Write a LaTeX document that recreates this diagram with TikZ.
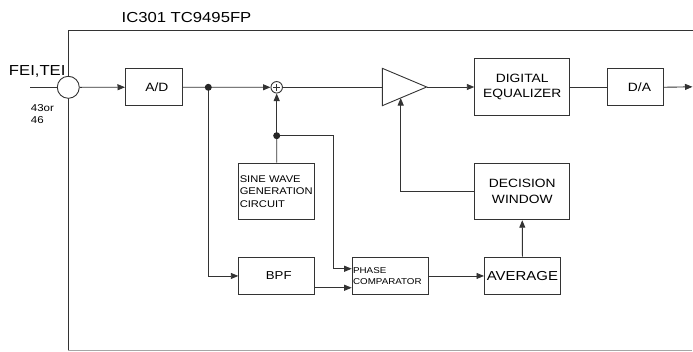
\documentclass[tikz,border=0pt]{standalone}
\usepackage{fontspec}
\setmainfont{Liberation Sans}[FakeStretch=1.15]
\usetikzlibrary{arrows.meta,calc}
\begin{document}
\begin{tikzpicture}[x=1pt,y=-1pt,
  ln/.style={draw=black!80,line width=0.9pt},
  arr/.style={ln,-{Triangle[length=7.5pt,width=6pt]}},
  blk/.style={draw=black!80,line width=0.9pt,rectangle,inner sep=0pt,anchor=north west,align=center,font=\fontsize{12}{15.5}\selectfont},
  lblk/.style={blk,inner sep=1pt,align=left},
  dotn/.style={circle,fill=black!85,inner sep=0pt,minimum size=7pt},
  lbl/.style={inner sep=0pt},
]
\useasboundingbox (0,0) rectangle (693,351);
% frame
\draw[ln] (68.3,350) -- (68.3,30) -- (693,30);
\draw[draw=black!35,line width=0.9pt] (68.3,350.3) -- (691.7,350.3);
% labels
\node[lbl,font=\fontsize{14.5}{17}\selectfont] (title) at (186.5,17.3) {IC301 TC9495FP};
\node[lbl,font=\fontsize{14.5}{17}\selectfont] (fei) at (37.2,71.3) {FEI,TEI};
\node[lbl,anchor=west,align=left,font=\fontsize{10}{12}\selectfont] (pin) at (30.7,114) {43or\\46};
% blocks
\node[circle,draw=black!80,line width=0.9pt,fill=white,minimum size=22pt,inner sep=0pt] (cin) at (68.3,87.3) {};
\node[blk,minimum width=56.7pt,minimum height=37pt] (ad) at (125,68.3) {\hspace*{6pt}A/D};
\node[circle,draw=black!80,line width=0.9pt,fill=white,minimum size=11.5pt,inner sep=0pt] (sum) at (276.7,87.3) {};
\draw[ln,line width=0.7pt] ($(sum.center)+(-3.3,0)$) -- ($(sum.center)+(3.3,0)$);
\draw[ln,line width=0.7pt] ($(sum.center)+(0,-3.3)$) -- ($(sum.center)+(0,3.3)$);
\draw[ln] (382.3,68.3) -- (426.7,87) -- (382.3,105.7) -- cycle;
\coordinate (tin) at (382.3,87.3);
\coordinate (tout) at (426.7,87);
\coordinate (tfb) at (400.7,98);
\node[blk,minimum width=95pt,minimum height=56.7pt] (eq) at (474.3,58.3) {DIGITAL\\EQUALIZER};
\node[blk,minimum width=56.6pt,minimum height=37pt] (da) at (606.7,68.3) {\hspace*{8pt}D/A};
\node[lblk,text width=74pt,minimum height=56.6pt,font=\fontsize{9.7}{12.5}\selectfont] (sine) at (238.3,162.7) {SINE WAVE\\GENERATION\\CIRCUIT};
\node[blk,minimum width=95pt,minimum height=56.6pt] (dw) at (474.3,162.7) {DECISION\\WINDOW};
\node[blk,minimum width=76pt,minimum height=37.6pt,font=\fontsize{11.5}{14}\selectfont] (bpf) at (238.3,256.7) {\hspace*{4pt}BPF};
\node[lblk,text width=74pt,minimum height=37.6pt,font=\fontsize{8.5}{11.5}\selectfont] (pc) at (351.7,256.7) {PHASE\\COMPARATOR};
\node[blk,minimum width=76pt,minimum height=37.6pt,font=\fontsize{13}{15}\selectfont] (avg) at (484,256.7) {AVERAGE};
% connectors
\coordinate (in) at (30,87.3);
\coordinate (j1) at (208.3,87.3);
\coordinate (j2) at (276.7,135.7);
\coordinate (k) at (333.3,135.7);
\coordinate (out) at (692.5,86.8);
\draw[ln] (in) -- (cin.west);
\draw[arr] (cin.east) -- (ad.west);
\draw[arr] (ad.east) -- (sum.west);
\draw[ln] (sum.east) -- (tin);
\draw[arr] (tout) -- (tout -| eq.west);
\draw[ln] (eq.east) -- (eq.east -| da.west);
\draw[arr] (da.east) -- (out);
\draw[arr] (j1) |- (bpf.west);
\draw[arr] (j2) -- (sum.south);
\draw[ln] (j2) -- (sine.north);
\draw[arr] (j2) -- (k) |- ([yshift=7.2pt]pc.west);
\draw[arr] ([yshift=-11.8pt]bpf.east) -- ([yshift=-11.8pt]pc.west);
\draw[arr] (pc.east) -- (avg.west);
\draw[arr] (avg.north) -- (dw.south);
\draw[arr] (dw.west) -| (tfb);
\node[dotn] (d1) at (j1) {};
\node[dotn] (d2) at (j2) {};
\end{tikzpicture}
\end{document}
